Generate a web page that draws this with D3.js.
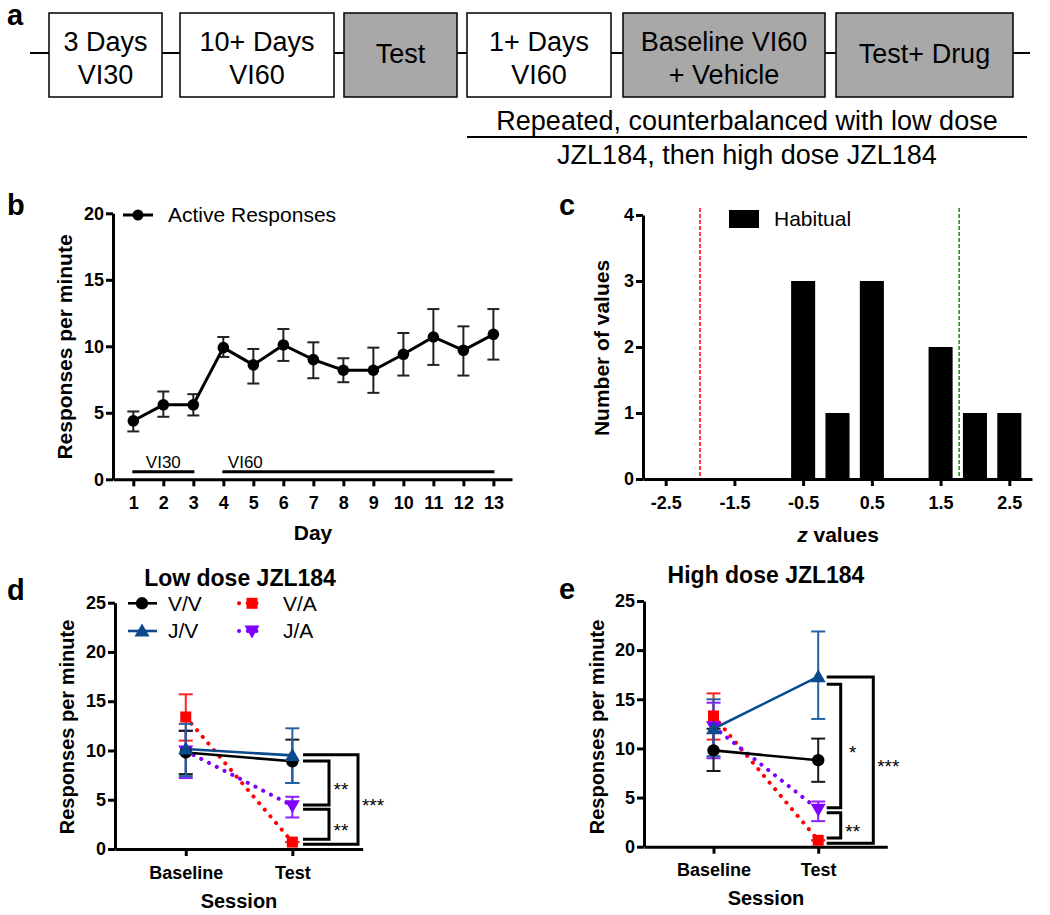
<!DOCTYPE html>
<html><head><meta charset="utf-8">
<script src="https://cdn.jsdelivr.net/npm/d3@7/dist/d3.min.js"></script>
<style>body{margin:0;background:#fff;} text{font-family:"Liberation Sans",Arial,sans-serif;}</style>
</head><body>
<script>
// ---------- DATA ----------
// Panel a: schedule boxes
const boxLabels = [["3 Days","VI30"],["10+ Days","VI60"],["Test"],["1+ Days","VI60"],["Baseline VI60","+ Vehicle"],["Test+ Drug"]];
const boxShaded = [false,false,true,false,true,true];
const noteLines = ["Repeated, counterbalanced with low dose","JZL184, then high dose JZL184"];

// Panel b: active responses by day
const days = [1,2,3,4,5,6,7,8,9,10,11,12,13];
const activeMean = [4.4,5.6,5.6,9.9,8.6,10.1,9.0,8.2,8.2,9.4,10.7,9.7,10.9];
const activeLow  = [3.6,4.7,4.8,9.2,7.2,8.9,7.6,7.3,6.5,7.8,8.6,7.8,9.0];
const activeHigh = [5.1,6.6,6.4,10.7,9.8,11.3,10.3,9.1,9.9,11.0,12.8,11.5,12.8];
const bTicksY = [0,5,10,15,20];
const phaseLabels = ["VI30","VI60"];
const phaseStart = [1,4];
const phaseEnd = [3,13];

// Panel c: histogram of z values
const zCenters = [-0.5,0,0.5,1.5,2.0,2.5];
const zCounts  = [3,1,3,2,1,1];
const zTicks = [-2.5,-1.5,-0.5,0.5,1.5,2.5];
const cTicksY = [0,1,2,3,4];
const cutLow = -2.0, cutHigh = 1.77;

// Panels d, e
const sessions = ["Baseline","Test"];
const groups = ["V/V","J/V","V/A","J/A"];
const lowMean = {"V/V":[9.8,8.9],"J/V":[10.15,9.5],"V/A":[13.4,0.7],"J/A":[9.95,4.4]};
const lowLo   = {"V/V":[7.6,6.7],"J/V":[7.4,6.7],"V/A":[11.0,0.7],"J/A":[7.2,3.2]};
const lowHi   = {"V/V":[12.0,11.1],"J/V":[12.7,12.25],"V/A":[15.7,0.7],"J/A":[12.0,5.3]};
const highMean = {"V/V":[9.8,8.8],"J/V":[12.0,17.3],"V/A":[13.3,0.65],"J/A":[12.2,3.8]};
const highLo   = {"V/V":[7.7,6.6],"J/V":[9.2,13.0],"V/A":[10.9,0.65],"J/A":[9.0,2.6]};
const highHi   = {"V/V":[12.0,11.0],"J/V":[15.0,21.9],"V/A":[15.6,0.65],"J/A":[14.65,4.6]};
const deTicksY = [0,5,10,15,20,25];
const lowSig  = [{from:9.57,to:0.48,level:2,label:"***"},{from:8.93,to:4.47,level:1,label:"**"},{from:4.03,to:0.98,level:1,label:"**"}];
const highSig = [{from:17.27,to:0.35,level:2,label:"***"},{from:16.52,to:3.97,level:1,label:"*"},{from:3.46,to:0.89,level:1,label:"**"}];

// ---------- STYLE ----------
const col = {"V/V":"#000000","J/V":"#0b4a8c","V/A":"#ff0000","J/A":"#7f00ff"};
const errCol = {"V/V":"#1a1a1a","J/V":"#2463a3","V/A":"#ff2020","J/A":"#8a20ff"};
const dotted = {"V/V":false,"J/V":false,"V/A":true,"J/A":true};
const FONT = '"Liberation Sans",Arial,sans-serif';

const svg = d3.select("body").append("svg").attr("width",1050).attr("height",915);

function panelLetter(t,x,y){
  svg.append("text").attr("x",x).attr("y",y).attr("font-size",29).attr("font-weight","bold").text(t);
}
function styleAxis(g,fs){
  g.attr("font-family",FONT);
  g.select(".domain").attr("stroke","#000").attr("stroke-width",3);
  g.selectAll(".tick line").attr("stroke","#000").attr("stroke-width",3);
  g.selectAll(".tick text").attr("font-size",fs).attr("font-weight","bold").attr("fill","#000");
}

// ---------- PANEL A ----------
const boxEdges = [[49,162],[180,334],[344,457],[467,611],[623,825],[836,1013]];
panelLetter("a",7,25);
svg.append("line").attr("x1",30).attr("x2",1030).attr("y1",53).attr("y2",53).attr("stroke","#000").attr("stroke-width",2);
boxLabels.forEach((lab,i)=>{
  const [x0,x1]=boxEdges[i];
  svg.append("rect").attr("x",x0).attr("y",13).attr("width",x1-x0).attr("height",84)
    .attr("fill",boxShaded[i]?"#a8a8a8":"#fff").attr("stroke","#000").attr("stroke-width",1.5);
  const cx=(x0+x1)/2;
  const ys = lab.length===2?[42,75]:[54];
  lab.forEach((t,j)=>svg.append("text").attr("x",cx).attr("y",ys[j]).attr("dy","0.35em")
    .attr("text-anchor","middle").attr("font-size",27).text(t));
});
svg.append("text").attr("x",747).attr("y",121).attr("dy","0.35em").attr("text-anchor","middle").attr("font-size",27).text(noteLines[0]);
svg.append("line").attr("x1",467).attr("x2",1027).attr("y1",137).attr("y2",137).attr("stroke","#000").attr("stroke-width",2);
svg.append("text").attr("x",747).attr("y",155).attr("dy","0.35em").attr("text-anchor","middle").attr("font-size",27).text(noteLines[1]);

// ---------- PANEL B ----------
panelLetter("b",7,215);
{
  const x = d3.scaleLinear().domain([0.323,13.62]).range([113,512]);
  const y = d3.scaleLinear().domain([0,20]).range([479.3,213.3]);
  const gx = svg.append("g").attr("transform","translate(0,479.3)")
    .call(d3.axisBottom(x).tickValues(days).tickSize(7).tickSizeOuter(0).tickPadding(10).tickFormat(d3.format("d")));
  styleAxis(gx,18);
  const gy = svg.append("g").attr("transform","translate(113,0)")
    .call(d3.axisLeft(y).tickValues(bTicksY).tickSize(7).tickSizeOuter(0).tickPadding(2));
  styleAxis(gy,18);
  svg.append("text").attr("x",313).attr("y",540).attr("text-anchor","middle").attr("font-size",21).attr("font-weight","bold").text("Day");
  svg.append("text").attr("transform","translate(72,347) rotate(-90)").attr("text-anchor","middle").attr("font-size",21).attr("font-weight","bold").text("Responses per minute");
  phaseLabels.forEach((p,i)=>{
    const x0=x(phaseStart[i])-1, x1=x(phaseEnd[i])+1;
    svg.append("line").attr("x1",x0).attr("x2",x1).attr("y1",471.7).attr("y2",471.7).attr("stroke","#000").attr("stroke-width",3);
  });
  svg.append("text").attr("x",x(2)).attr("y",468).attr("text-anchor","middle").attr("font-size",17).text(phaseLabels[0]);
  svg.append("text").attr("x",x(5)-8).attr("y",468).attr("text-anchor","middle").attr("font-size",17).text(phaseLabels[1]);
  days.forEach((d,i)=>{
    const g=svg.append("g").attr("stroke","#222").attr("stroke-width",2);
    g.append("line").attr("x1",x(d)).attr("x2",x(d)).attr("y1",y(activeLow[i])).attr("y2",y(activeHigh[i]));
    [activeLow[i],activeHigh[i]].forEach(v=>g.append("line").attr("x1",x(d)-6).attr("x2",x(d)+6).attr("y1",y(v)).attr("y2",y(v)));
  });
  svg.append("path").datum(days.map((d,i)=>[d,activeMean[i]]))
    .attr("d",d3.line().x(p=>x(p[0])).y(p=>y(p[1]))).attr("fill","none").attr("stroke","#000").attr("stroke-width",3);
  svg.selectAll(null).data(days).enter().append("circle").attr("cx",d=>x(d)).attr("cy",(d,i)=>y(activeMean[i])).attr("r",5.8).attr("fill","#000");
  svg.append("line").attr("x1",123).attr("x2",153).attr("y1",215).attr("y2",215).attr("stroke","#000").attr("stroke-width",3);
  svg.append("circle").attr("cx",138).attr("cy",215).attr("r",5.5).attr("fill","#000");
  svg.append("text").attr("x",168).attr("y",215).attr("dy","0.35em").attr("font-size",21).text("Active Responses");
}

// ---------- PANEL C ----------
panelLetter("c",559,215);
{
  const x = d3.scaleLinear().domain([-2.83,2.83]).range([643,1032]);
  const y = d3.scaleLinear().domain([0,4]).range([479,215]);
  const bw = x(0.35)-x(0);
  svg.selectAll(null).data(zCenters).enter().append("rect")
    .attr("x",d=>x(d)-bw/2).attr("width",bw).attr("y",(d,i)=>y(zCounts[i])).attr("height",(d,i)=>y(0)-y(zCounts[i])).attr("fill","#000");
  svg.append("line").attr("x1",x(cutLow)).attr("x2",x(cutLow)).attr("y1",208).attr("y2",479).attr("stroke","#ff0000").attr("stroke-width",1.5).attr("stroke-dasharray","4,2");
  svg.append("line").attr("x1",x(cutHigh)).attr("x2",x(cutHigh)).attr("y1",208).attr("y2",479).attr("stroke","#118811").attr("stroke-width",1.5).attr("stroke-dasharray","4,2");
  const gx = svg.append("g").attr("transform","translate(0,479)")
    .call(d3.axisBottom(x).tickValues(zTicks).tickSize(7).tickSizeOuter(0).tickPadding(10).tickFormat(d=>d<0?"-"+Math.abs(d).toFixed(1):d.toFixed(1)));
  styleAxis(gx,18);
  const gy = svg.append("g").attr("transform","translate(643,0)")
    .call(d3.axisLeft(y).tickValues(cTicksY).tickSize(7).tickSizeOuter(0).tickPadding(2).tickFormat(d3.format("d")));
  styleAxis(gy,18);
  const xl = svg.append("text").attr("x",838).attr("y",542).attr("text-anchor","middle").attr("font-size",21).attr("font-weight","bold");
  xl.append("tspan").attr("font-style","italic").text("z");
  xl.append("tspan").text(" values");
  svg.append("text").attr("transform","translate(609,348) rotate(-90)").attr("text-anchor","middle").attr("font-size",21).attr("font-weight","bold").text("Number of values");
  svg.append("rect").attr("x",729).attr("y",210).attr("width",30).attr("height",18).attr("fill","#000");
  svg.append("text").attr("x",774).attr("y",219).attr("dy","0.35em").attr("font-size",21).text("Habitual");
}

// ---------- PANELS D, E ----------
function marker(sel,g,cx,cy,s){
  const c=col[g];
  if(g==="V/V") sel.append("circle").attr("cx",cx).attr("cy",cy).attr("r",6.2*s).attr("fill",c);
  else if(g==="V/A") sel.append("rect").attr("x",cx-5.5*s).attr("y",cy-5.5*s).attr("width",11*s).attr("height",11*s).attr("fill",c);
  else if(g==="J/V") sel.append("path").attr("d",`M${cx},${cy-7.5*s}L${cx+7.5*s},${cy+5.5*s}L${cx-7.5*s},${cy+5.5*s}Z`).attr("fill",c);
  else sel.append("path").attr("d",`M${cx},${cy+7.5*s}L${cx+7.5*s},${cy-5.5*s}L${cx-7.5*s},${cy-5.5*s}Z`).attr("fill",c);
}
function seriesLine(sel,g,x1,y1,x2,y2){
  const l=sel.append("line").attr("x1",x1).attr("x2",x2).attr("y1",y1).attr("y2",y2).attr("stroke",col[g]);
  if(dotted[g]) l.attr("stroke-width",4).attr("stroke-linecap","round").attr("stroke-dasharray","0.1,8.6");
  else l.attr("stroke-width",2.6);
}
function sessionPanel(o){
  panelLetter(o.letter,o.lx,o.ly);
  const xs = d3.scaleLinear().domain([-0.664,1.66]).range([o.x0,o.x1]);
  const xBase = xs(0), xTest=xs(1);
  const y = d3.scaleLinear().domain([0,25]).range([o.y0,o.yTop]);
  svg.append("text").attr("x",o.tx).attr("y",o.ty).attr("dy","0.35em").attr("text-anchor","middle").attr("font-size",23).attr("font-weight","bold").text(o.title);
  const gx = svg.append("g").attr("transform",`translate(0,${o.y0})`)
    .call(d3.axisBottom(xs).tickValues([0,1]).tickSize(7).tickSizeOuter(0).tickPadding(10).tickFormat(i=>sessions[i]));
  styleAxis(gx,18);
  const gy = svg.append("g").attr("transform",`translate(${o.x0},0)`)
    .call(d3.axisLeft(y).tickValues(deTicksY).tickSize(7).tickSizeOuter(0).tickPadding(2));
  styleAxis(gy,18);
  svg.append("text").attr("x",o.sx).attr("y",o.sy).attr("dy","0.35em").attr("text-anchor","middle").attr("font-size",20).attr("font-weight","bold").text("Session");
  svg.append("text").attr("transform",`translate(${o.ylx},${o.yly}) rotate(-90)`).attr("text-anchor","middle").attr("font-size",20).attr("font-weight","bold").text("Responses per minute");
  const order = ["V/A","J/A","V/V","J/V"];
  order.forEach(g=>seriesLine(svg,g,xBase,y(o.mean[g][0]),xTest,y(o.mean[g][1])));
  order.forEach(g=>{
    [0,1].forEach(k=>{
      const xx=k===0?xBase:xTest;
      const gg=svg.append("g").attr("stroke",errCol[g]).attr("stroke-width",2);
      gg.append("line").attr("x1",xx).attr("x2",xx).attr("y1",y(o.lo[g][k])).attr("y2",y(o.hi[g][k]));
      [o.lo[g][k],o.hi[g][k]].forEach(v=>gg.append("line").attr("x1",xx-7).attr("x2",xx+7).attr("y1",y(v)).attr("y2",y(v)));
    });
  });
  order.forEach(g=>[0,1].forEach(k=>marker(svg,g,k===0?xBase:xTest,y(o.mean[g][k]),1)));
  o.sig.forEach(s=>{
    const xe = s.level===2?o.b2:o.b1;
    svg.append("path").attr("d",`M${o.bs},${y(s.from)}H${xe}V${y(s.to)}H${o.bs}`).attr("fill","none").attr("stroke","#000").attr("stroke-width",3);
    const mid=(y(s.from)+y(s.to))/2;
    svg.append("text").attr("x",xe+(s.level===2?15:12)).attr("y",mid+13).attr("text-anchor","middle").attr("font-size",19).text(s.label);
  });
  if(o.legend){
    const rows=[[ "V/V","V/A"],["J/V","J/A"]];
    const ry=[603.3,631];
    const lx=[[128,157,142,168],[239,265,252,283]];
    rows.forEach((r,ri)=>r.forEach((g,ci)=>{
      const [a,b,m,t]=lx[ci];
      seriesLine(svg,g,a,ry[ri],b,ry[ri]);
      marker(svg,g,m,ry[ri],1);
      svg.append("text").attr("x",t).attr("y",ry[ri]).attr("dy","0.35em").attr("font-size",21).text(g);
    }));
  }
}
sessionPanel({letter:"d",lx:7,ly:600,title:"Low dose JZL184",tx:240,ty:578,x0:115,x1:362.7,y0:849,yTop:602.7,
  sx:239,sy:901,ylx:74,yly:727,mean:lowMean,lo:lowLo,hi:lowHi,sig:lowSig,bs:303,b1:329,b2:358,legend:true});
sessionPanel({letter:"e",lx:559,ly:599,title:"High dose JZL184",tx:766,ty:575,x0:644,x1:887.3,y0:846.7,yTop:601,
  sx:766,sy:898,ylx:604,yly:727,mean:highMean,lo:highLo,hi:highHi,sig:highSig,bs:826.7,b1:840.7,b2:873.3,legend:false});
</script>
</body></html>
